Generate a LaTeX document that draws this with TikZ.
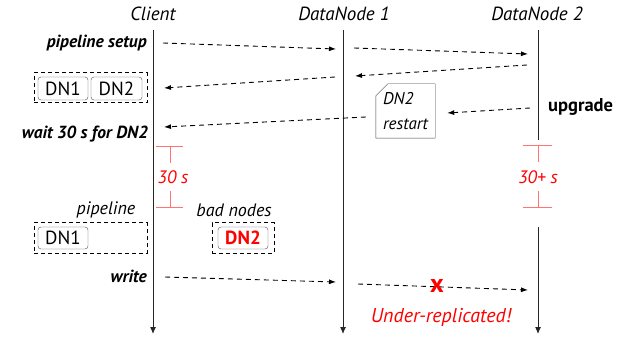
\documentclass[tikz,border=0pt]{standalone}
\usepackage{fontspec}
\setmainfont{PT Sans}
\usetikzlibrary{positioning, arrows.meta}

\begin{document}
\begin{tikzpicture}[
    x=1pt, y=-1pt,
    every node/.style={font=\fontsize{18}{21}\selectfont},
    lifeline/.style={draw=black!85, line width=1pt},
    msg/.style={-{Latex[length=7pt,width=5pt]}, line width=0.9pt, dash pattern=on 5pt off 4pt},
    action/.style={font=\fontsize{17.5}{20}\selectfont\bfseries\itshape, anchor=east, inner sep=0pt},
    title/.style={font=\fontsize{19}{22}\selectfont\itshape},
    dnbox/.style={draw=black!70, rounded corners=3pt, minimum width=50pt, minimum height=23pt, inner sep=0pt,
        font=\fontsize{19}{21}\selectfont},
    group/.style={draw, line width=1pt, dash pattern=on 4pt off 3pt, inner sep=0pt},
    timer/.style={draw=red!55, line width=0.8pt},
    timertext/.style={text=red, font=\fontsize{18}{21}\selectfont\itshape},
    note/.style={minimum width=59pt, minimum height=54pt, align=left, inner sep=5pt,
        font=\fontsize{17}{25}\selectfont\itshape}
]
\useasboundingbox (0,0) rectangle (629,339);

% Lifelines
\node[title] (client) at (153,14) {Client};
\node[title] (dn1) at (344,14) {DataNode 1};
\node[title] (dn2) at (537,14) {DataNode 2};
\coordinate (client-top) at (153,30);
\coordinate (client-end) at (153,334);
\coordinate (dn1-top) at (343,30);
\coordinate (dn1-end) at (343,334);
\coordinate (dn2-top) at (538,30);
\coordinate (dn2-off) at (538,140);
\coordinate (dn2-on) at (538,227);
\coordinate (dn2-end) at (538,334);
\draw[lifeline, -{Latex[length=7pt,width=6pt]}] (client-top) -- (client-end);
\draw[lifeline, -{Latex[length=7pt,width=6pt]}] (dn1-top) -- (dn1-end);
\draw[lifeline] (dn2-top) -- (dn2-off);
\draw[lifeline, -{Latex[length=7pt,width=6pt]}] (dn2-on) -- (dn2-end);

% Pipeline setup
\node[action] (setup) at (147,43) {pipeline setup};
\coordinate (m1a) at (163,43);
\coordinate (m1b) at (336,49);
\coordinate (m2a) at (354,48);
\coordinate (m2b) at (528,54);
\coordinate (m3a) at (527,65);
\coordinate (m3b) at (355,76);
\coordinate (m4a) at (335,77);
\coordinate (m4b) at (164,88);
\draw[msg] (m1a) -- (m1b);
\draw[msg] (m2a) -- (m2b);
\draw[msg] (m3a) -- (m3b);
\draw[msg] (m4a) -- (m4b);
\node[group, minimum width=113pt, minimum height=30pt] (ack) at (90.5,88) {};
\node[dnbox] (ack1) at (63,88.5) {DN1};
\node[dnbox, minimum width=51pt] (ack2) at (116.5,88.5) {DN2};

% Upgrade of DataNode 2
\node[font=\fontsize{18.5}{21}\selectfont\bfseries, anchor=west, inner sep=0pt] (upgrade) at (548,107) {upgrade};
\node[note] (restart) at (405.5,111) {DN2\\restart};
\draw[draw=black!75] ([yshift=-12pt]restart.north west) -- ([xshift=12pt]restart.north west)
    -- (restart.north east) -- (restart.south east) -- (restart.south west) -- cycle;
\coordinate (m5a) at (530,108);
\coordinate (m6b) at (164,127);
\draw[msg] (m5a) -- ([xshift=12pt]restart.east |- 0,113);
\draw[msg] ([xshift=-10pt]restart.west |- 0,117) -- (m6b);
\node[action] (wait) at (148,134) {wait 30 s for DN2};

% Timeouts
\node[timertext] (t30) at (173,177) {30 s};
\draw[timer] (156,146) -- (183,146) (170,146) -- (170,163)
    (170,191) -- (170,207) (156,207) -- (183,207);
\node[timertext] (t30plus) at (538,177) {30+ s};
\draw[timer] (523,145) -- (552,145) (538,145) -- (538,162)
    (538,191) -- (538,207) (523,207) -- (552,207);

% Pipeline after timeout
\node[font=\fontsize{18}{21}\selectfont\itshape] (pipeline) at (106,210) {pipeline};
\node[group, minimum width=113pt, minimum height=30pt] (pipe) at (90.5,238) {};
\node[dnbox, minimum height=22pt] (pipe1) at (63,238) {DN1};
\node[font=\fontsize{18}{21}\selectfont\itshape] (badnodes) at (234,210) {bad nodes};
\node[group, minimum width=62pt, minimum height=30pt] (bad) at (243,238) {};
\node[dnbox, minimum height=22pt, text=red, font=\fontsize{19}{21}\selectfont\bfseries] (bad2) at (243,238) {DN2};

% Write
\node[action] (write) at (147,276) {write};
\coordinate (m7a) at (165,277);
\coordinate (m7b) at (336,282);
\coordinate (m8a) at (358,284);
\coordinate (m8b) at (528,290);
\draw[msg] (m7a) -- (m7b);
\draw[msg] (m8a) -- (m8b);
\node[text=red, font=\fontsize{26}{26}\selectfont\bfseries, inner sep=0pt] (lost) at (437,286) {x};
\node[text=red, font=\fontsize{20}{22}\selectfont\itshape] (under) at (441,317) {Under-replicated!};

\end{tikzpicture}
\end{document}
